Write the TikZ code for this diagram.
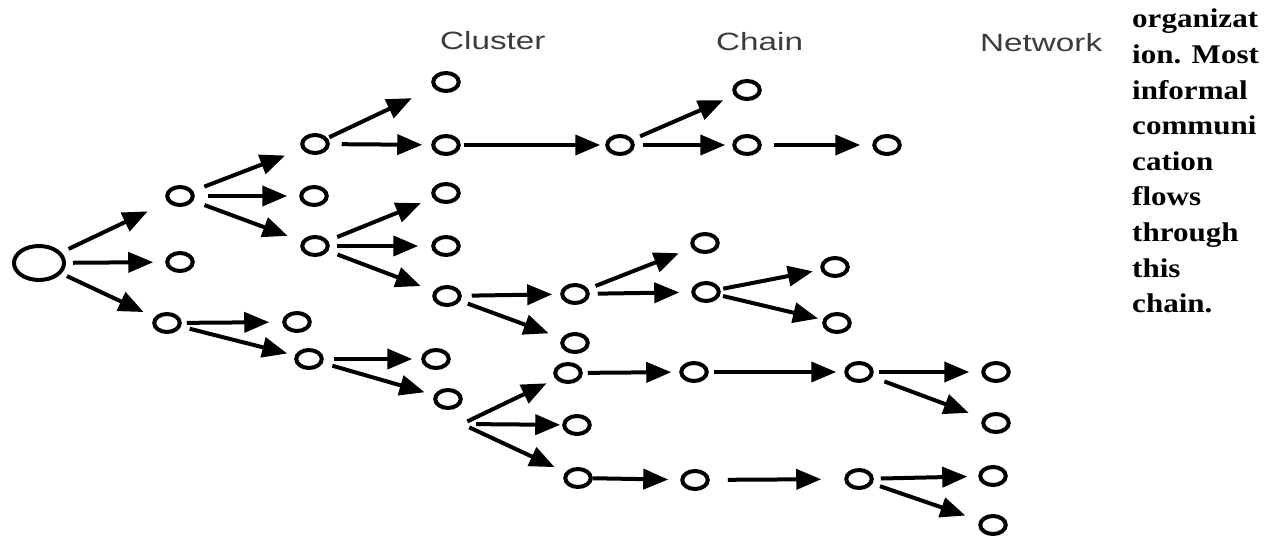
\documentclass[tikz,border=0pt]{standalone}
\usepackage{fontspec}
\usetikzlibrary{shapes.geometric,arrows.meta,calc}
\newfontfamily\labfont[FakeStretch=1.33]{Liberation Sans}
\newfontfamily\bodyfont[FakeStretch=1.15]{Liberation Serif}
\definecolor{labgray}{RGB}{60,60,60}
\begin{document}
\begin{tikzpicture}[x=1pt,y=-1pt,
  nd/.style={ellipse, draw, line width=4pt, minimum width=25.5pt, minimum height=18pt, inner sep=0pt},
  rootnd/.style={nd, minimum width=50pt, minimum height=34pt},
  arr/.style 2 args={line width=4pt, -{Triangle[length=25pt,width=20pt]}, shorten <=#1pt, shorten >=#2pt},
  lab/.style={anchor=base west, inner sep=0pt, text=labgray, font=\labfont\fontsize{25}{30}\selectfont},
  txt/.style={anchor=base west, inner sep=0pt, font=\bodyfont\bfseries\fontsize{27}{35.6}\selectfont}
]
\useasboundingbox[fill=white] (0,0) rectangle (1279,537);

% labels
\node[lab] (lcluster) at (440,50) {Cluster};
\node[lab] (lchain) at (716,51) {Chain};
\node[lab] (lnetwork) at (980,52) {Network};

% right text
\node[txt] (t1) at (1132,28) {organizat};
\node[txt] (t2) at (1132,63.6) {ion. Most};
\node[txt] (t3) at (1132,99.2) {informal};
\node[txt] (t4) at (1132,134.8) {communi};
\node[txt] (t5) at (1132,170.4) {cation};
\node[txt] (t6) at (1132,206) {flows};
\node[txt] (t7) at (1132,241.6) {through};
\node[txt] (t8) at (1132,277.2) {this};
\node[txt] (t9) at (1132,312.8) {chain.};

% nodes
\node[rootnd] (R) at (39,263) {};
\node[nd] (A1) at (180,196) {};
\node[nd] (A2) at (180,262) {};
\node[nd] (A3) at (167,323) {};
\node[nd] (B1) at (315,144) {};
\node[nd] (B2) at (314,196) {};
\node[nd] (B3) at (315,246) {};
\node[nd] (B4) at (297,322) {};
\node[nd] (B5) at (309,359) {};
\node[nd] (C1) at (446,82) {};
\node[nd] (C2) at (446,145) {};
\node[nd] (C3) at (446,193) {};
\node[nd] (C4) at (446,246) {};
\node[nd] (C5) at (447,296) {};
\node[nd] (C6) at (436,359) {};
\node[nd] (C7) at (448,399) {};
\node[nd] (D1) at (620,145) {};
\node[nd] (D2) at (575,294) {};
\node[nd] (D3) at (575,343) {};
\node[nd] (E1) at (747,90) {};
\node[nd] (E2) at (747,145) {};
\node[nd] (E3) at (705,243) {};
\node[nd] (E4) at (706,292) {};
\node[nd] (F1) at (887,145) {};
\node[nd] (F2) at (835,267) {};
\node[nd] (F3) at (837,323) {};
\node[nd] (G1) at (568,373) {};
\node[nd] (G2) at (577,425) {};
\node[nd] (G3) at (578,478) {};
\node[nd] (H1) at (694,372) {};
\node[nd] (H2) at (859,372) {};
\node[nd] (H3) at (695,480) {};
\node[nd] (H4) at (859,479) {};
\node[nd] (I1) at (996,372) {};
\node[nd] (I2) at (996,423) {};
\node[nd] (I3) at (993,476) {};
\node[nd] (I4) at (993,525) {};
\coordinate (fan) at (462,424);

% connectors
\draw[arr={8}{22}] (R) -- (A1);
\draw[arr={7}{12}] (R) -- (A2);
\draw[arr={6}{12}] (R) -- (A3);
\draw[arr={12}{18}] (A1) -- (B1);
\draw[arr={13}{12}] (A1) -- (B2);
\draw[arr={12}{15}] (A1) -- (B3);
\draw[arr={5}{13}] (A3) -- (B4);
\draw[arr={9}{8}] (A3) -- (B5);
\draw[arr={2}{24}] (B1) -- (C1);
\draw[arr={12}{9}] (B1) -- (C2);
\draw[arr={10}{13}] (B3) -- (C3);
\draw[arr={7}{13}] (B3) -- (C4);
\draw[arr={10}{14}] (B3) -- (C5);
\draw[arr={10}{9}] (B5) -- (C6);
\draw[arr={10}{10}] (B5) -- (C7);
\draw[arr={3}{5}] (C2) -- (D1);
\draw[arr={8}{12}] (D1) -- (E1);
\draw[arr={8}{7}] (D1) -- (E2);
\draw[arr={12}{12}] (E2) -- (F1);
\draw[arr={10}{8}] (C5) -- (D2);
\draw[arr={8}{14}] (C5) -- (D3);
\draw[arr={8}{14}] (D2) -- (E3);
\draw[arr={8}{12}] (D2) -- (E4);
\draw[arr={3}{8}] (E4) -- (F2);
\draw[arr={3}{5}] (E4) -- (F3);
\draw[arr={6}{10}] (fan) -- (G1);
\draw[arr={14}{2}] (fan) -- (G2);
\draw[arr={8}{12}] (fan) -- (G3);
\draw[arr={5}{8}] (G1) -- (H1);
\draw[arr={0}{12}] (G3) -- (H3);
\draw[arr={5}{8}] (H1) -- (H2);
\draw[arr={5}{12}] (H2) -- (I1);
\draw[arr={13}{15}] (H2) -- (I2);
\draw[arr={18}{23}] (H3) -- (H4);
\draw[arr={7}{11}] (H4) -- (I3);
\draw[arr={8}{15}] (H4) -- (I4);
\end{tikzpicture}
\end{document}
